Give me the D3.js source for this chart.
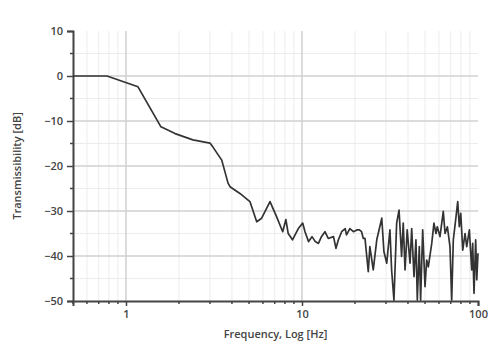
<!DOCTYPE html>
<html>
<head>
<meta charset="utf-8">
<script src="https://cdn.jsdelivr.net/npm/d3@7"></script>
<style>
body{margin:0;background:#fff;}
.tick text{font-family:"Open Sans",sans-serif;font-size:11px;font-weight:600;fill:#444;}
</style>
</head>
<body>
<div class="canvas"></div>
<script>
// data
const freq=[0.5,0.78,1.17,1.58,1.9,2.4,3.0,3.12,3.5,3.8,3.9,4.44,5.06,5.53,5.9,6.58,7.18,7.77,8.1,8.35,8.83,9.53,
  10.1,10.4,10.9,11.4,11.9,12.4,12.9,13.5,14.1,15.1,15.6,16.1,16.8,17.6,17.9,18.7,19.6,20.5,21.2,21.8,
  22.3,22.8,23.8,24.3,25.4,26.6,28.4,29.2,30.3,31.6,32.3,33.3,34.5,35.6,36.8,37.6,38.5,39.6,41.1,42.0,43.3,
  44.4,45.2,46.4,47.2,48.5,50.0,51.1,52.2,54.6,56.2,57.7,58.7,60.8,63.5,65.0,67.0,69.3,70.9,72.4,75.0,76.7,
  78.3,79.8,81.9,84.4,86.3,89.3,92.1,93.3,94.9,97.0,98.4,100];
const db=[0,0,-2.4,-11.3,-12.8,-14.2,-14.9,-15.8,-18.7,-23.8,-24.6,-26.1,-27.9,-32.4,-31.6,-27.9,-31.3,-34.6,-31.9,-35,-36.4,-33.9,
  -32.7,-34.6,-36.8,-35.7,-36.8,-37.2,-35.7,-34.6,-36.1,-35.7,-38.3,-36.4,-34.6,-33.9,-35.3,-33.9,-34.6,-34.2,-34.2,-34.6,
  -36.1,-36.1,-43.5,-37.9,-43.1,-36.4,-31.6,-39,-41.6,-34.2,-43.1,-49.8,-32.7,-29.8,-40.1,-32.7,-43.1,-34.2,-41.6,-33.9,-44.6,
  -36.4,-49.8,-37.9,-49.8,-34.2,-46.8,-40.9,-42.4,-37.2,-32.7,-35,-33.5,-35.7,-30.1,-35,-33.5,-37.9,-49.8,-36.4,-31.3,-27.9,
  -33.5,-30.5,-38.7,-35,-37.9,-34.2,-43.1,-37.2,-48.3,-36.4,-45.3,-39.4];
const yTicks=[10,0,-10,-20,-30,-40,-50];
const xTicks=[1,10,100];

const width=500,height=353;
const margin={left:73,top:31,right:22,bottom:52};
const graphWidth=width-margin.left-margin.right;
const graphHeight=height-margin.top-margin.bottom;

const svg=d3.select('.canvas').append('svg')
.attr('width',width)
.attr('height',height);

const graph=svg.append('g')
.attr('transform',`translate(${margin.left},${margin.top})`);

const x=d3.scaleLog().domain([0.5,100]).range([0,graphWidth]);
const y=d3.scaleLinear().domain([-50,10]).range([graphHeight,0]);

// minor log ticks
const minorX=[];
[0.1,1,10].forEach(d=>{for(let k=2;k<=9;k++){const v=d*k;if(v>=0.5&&v<=100&&v!==1&&v!==10)minorX.push(v);}});
const minorY=[5,-5,-15,-25,-35,-45];

// grid
graph.selectAll('.gx-minor').data(minorX).enter().append('line')
.attr('x1',d=>x(d)).attr('x2',d=>x(d)).attr('y1',0).attr('y2',graphHeight)
.attr('stroke','#ececec').attr('stroke-width',1);
graph.selectAll('.gy-minor').data(minorY).enter().append('line')
.attr('x1',0).attr('x2',graphWidth).attr('y1',d=>y(d)).attr('y2',d=>y(d))
.attr('stroke','#ececec').attr('stroke-width',1);
graph.selectAll('.gx').data([1,10]).enter().append('line')
.attr('x1',d=>x(d)).attr('x2',d=>x(d)).attr('y1',0).attr('y2',graphHeight)
.attr('stroke','#d0d0d0').attr('stroke-width',1.5);
graph.selectAll('.gy').data(yTicks.slice(1,-1)).enter().append('line')
.attr('x1',0).attr('x2',graphWidth).attr('y1',d=>y(d)).attr('y2',d=>y(d))
.attr('stroke','#d0d0d0').attr('stroke-width',1.5);

// axes
const xAxisGroup=graph.append('g').attr('transform',`translate(0,${graphHeight})`);
const yAxisGroup=graph.append('g');

xAxisGroup.call(d3.axisBottom(x).tickValues(xTicks).tickFormat(d3.format('d')).tickSize(5).tickPadding(4));
xAxisGroup.selectAll('.minor').data(minorX).enter().append('line')
.attr('x1',d=>x(d)).attr('x2',d=>x(d)).attr('y1',0).attr('y2',3)
.attr('stroke','#444').attr('stroke-width',1.5);

yAxisGroup.call(d3.axisLeft(y).tickValues(yTicks).tickSize(6).tickPadding(4));
yAxisGroup.selectAll('.minor').data(minorY).enter().append('line')
.attr('x1',-3).attr('x2',0).attr('y1',d=>y(d)).attr('y2',d=>y(d))
.attr('stroke','#444').attr('stroke-width',1.5);

[xAxisGroup,yAxisGroup].forEach(g=>{
  g.select('.domain').attr('stroke','#444').attr('stroke-width',2);
  g.selectAll('.tick line').attr('stroke','#444').attr('stroke-width',1.5);
});

// curve
const line=d3.line().x((d,i)=>x(freq[i])).y(d=>y(d));
graph.append('path')
.datum(db)
.attr('d',line)
.attr('fill','none')
.attr('stroke','#333')
.attr('stroke-width',1.7)
.attr('stroke-linejoin','round');

// titles
svg.append('text')
.attr('x',margin.left+graphWidth/2).attr('y',338)
.attr('text-anchor','middle')
.attr('font-family','"Open Sans",sans-serif').attr('font-size',11).attr('font-weight',600).attr('fill','#444')
.text('Frequency, Log [Hz]');

svg.append('text')
.attr('transform',`translate(21,${margin.top+graphHeight/2}) rotate(-90)`)
.attr('text-anchor','middle')
.attr('font-family','"Open Sans",sans-serif').attr('font-size',11).attr('font-weight',600).attr('fill','#444')
.text('Transmissibility [dB]');
</script>
</body>
</html>
